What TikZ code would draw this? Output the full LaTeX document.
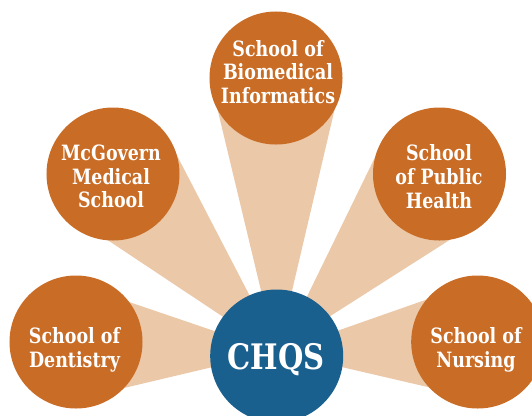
\documentclass[tikz,border=0pt]{standalone}
\usepackage{fontspec}
\setmainfont{DejaVu Serif Condensed}[BoldFont={DejaVu Serif Condensed Bold},FakeStretch=0.92]
\usetikzlibrary{calc}
\definecolor{orb}{RGB}{200,108,38}
\definecolor{beamc}{RGB}{235,200,168}
\definecolor{hub}{RGB}{26,96,142}
\tikzset{
  orbnode/.style={circle,fill=orb,draw=none,minimum size=3.99cm,inner sep=0pt},
  hubnode/.style={circle,fill=hub,draw=none,minimum size=3.99cm,inner sep=0pt},
  orbtext/.style={text=white,align=center,font=\bfseries\fontsize{18}{20.2}\selectfont,inner sep=0pt},
  hubtext/.style={text=white,font=\bfseries\fontsize{30}{34}\selectfont,inner sep=0pt},
  beam/.style={fill=beamc,draw=none}
}
\begin{document}
\begin{tikzpicture}[x=0.03cm,y=-0.03cm]
\useasboundingbox (0,0) rectangle (532,415);
\clip (0,0) rectangle (532,415);
% node positions
\coordinate (chqsc) at (276.7,356);
\coordinate (bioc) at (276,78);
\coordinate (mcgc) at (113,174);
\coordinate (phc) at (439.5,174);
\coordinate (dentc) at (76,342);
\coordinate (nursc) at (477.7,342);
% beams
\fill[beam] (chqsc) -- ($(bioc)+(-66,0)$) -- ($(bioc)+(66,0)$) -- cycle;
\fill[beam] ($(chqsc)+(-0.7,-4)$) -- ($(mcgc)+(-33,47.7)$) -- ($(mcgc)+(58,-30)$) -- ($(chqsc)+(4.3,0)$) -- cycle;
\fill[beam] ($(chqsc)+(-0.7,-4)$) -- ($(dentc)+(24,-49.9)$) -- ($(dentc)+(24,51.7)$) -- cycle;
\fill[beam] ($(chqsc)+(1.3,0)$) -- ($(phc)+(-59,-28)$) -- ($(phc)+(32.8,51.5)$) -- ($(chqsc)+(0.3,-6)$) -- cycle;
\fill[beam] ($(chqsc)+(0.3,-4)$) -- ($(nursc)+(-27.7,-50.7)$) -- ($(nursc)+(-27.7,50.2)$) -- cycle;
% circles
\node[orbnode] (bio) at (bioc) {};
\node[orbnode] (mcg) at (mcgc) {};
\node[orbnode] (ph) at (phc) {};
\node[orbnode] (dent) at (dentc) {};
\node[orbnode] (nurs) at (nursc) {};
\node[hubnode] (chqs) at (chqsc) {};
% texts
\node[orbtext] (biot) at (278,72) {School of\\Biomedical\\Informatics};
\node[orbtext] (mcgt) at (111,176.5) {McGovern\\Medical\\School};
\node[orbtext] (pht) at (439,176.5) {School\\of Public\\Health};
\node[orbtext] (dentt) at (74.5,350) {School of\\Dentistry};
\node[orbtext] (nurst) at (476,350) {School of\\Nursing};
\node[hubtext] (chqst) at (276,360) {CHQS};
\end{tikzpicture}
\end{document}
